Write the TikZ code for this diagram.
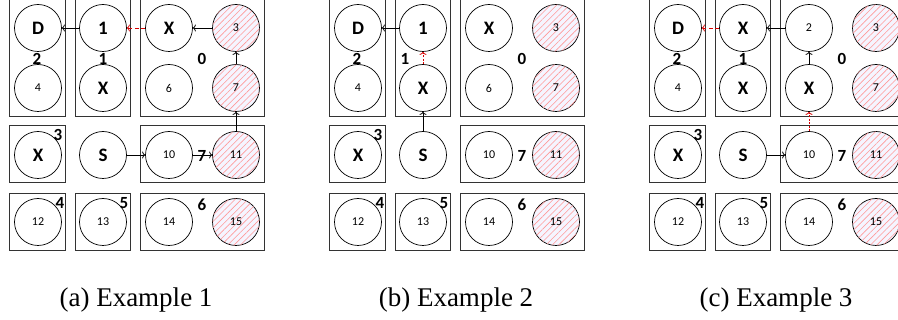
\documentclass[tikz,border=0pt]{standalone}
\usepackage{fontspec}
\setmainfont{Carlito}
\newfontfamily\capfont{Liberation Serif}
\usetikzlibrary{arrows.meta}
\usetikzlibrary{patterns.meta}

\begin{document}
\begin{tikzpicture}[x=1pt, y=-1pt, >={To[length=3pt,width=7pt]},
    cell/.style={circle, draw, line width=0.7pt, minimum size=47pt, inner sep=0pt},
    agent/.style={cell, font=\fontsize{19}{20}\selectfont\bfseries},
    num/.style={cell, font=\fontsize{12}{13}\selectfont},
    goal/.style={num, fill=blue!4, postaction={pattern={Lines[angle=45,distance=4.5pt,line width=0.6pt]}, pattern color=red!40}},
    group/.style={draw=black!80, line width=1pt},
    glabel/.style={font=\fontsize{17}{18}\selectfont\bfseries, inner sep=0pt},
    caption/.style={font=\capfont\fontsize{27}{30}\selectfont, anchor=base, inner sep=0pt},
    arrow/.style={->, line width=0.8pt},
    hop/.style={arrow, red!85!black, dash pattern=on 4pt off 2.5pt},
    hopv/.style={arrow, red!85!black, dash pattern=on 2pt off 1.5pt},
    ]

    \useasboundingbox (0,0) rectangle (898,320);
    \clip (0,0) rectangle (898,320);

    % Frames and captions of the three panels
    \foreach \p/\dx/\n in {a/0/1, b/320/2, c/640/3} {
        \begin{scope}[xshift=\dx pt]
            \draw[group] (9,-2) rectangle (65,117);
            \draw[group] (75,-2) rectangle (130,117);
            \draw[group] (140,-2) rectangle (264,117);
            \draw[group] (9,126) rectangle (65,183);
            \draw[group] (140,126) rectangle (264,183);
            \draw[group] (9,194) rectangle (65,251);
            \draw[group] (75,194) rectangle (130,251);
            \draw[group] (140,194) rectangle (264,251);

            \node[caption] (\p cap) at (136,307) {(\p) Example \n};
        \end{scope}
    }

    % Panel (a)
    \foreach \txt/\kind [count=\i from 0] in {D/agent, 1/agent, X/agent, 3/goal,
            4/num, X/agent, 6/num, 7/goal, X/agent, S/agent, 10/num, 11/goal,
            12/num, 13/num, 14/num, 15/goal} {
        \pgfmathtruncatemacro\col{mod(\i,4)}
        \pgfmathtruncatemacro\row{div(\i,4)}
        \pgfmathsetmacro\cx{{38,103,169,236}[\col]}
        \pgfmathsetmacro\cy{{28,88,155,222}[\row]}
        \node[\kind] (a\i) at (\cx,\cy) {\txt};
    }

    % Panel (b)
    \foreach \txt/\kind [count=\i from 0] in {D/agent, 1/agent, X/agent, 3/goal,
            4/num, X/agent, 6/num, 7/goal, X/agent, S/agent, 10/num, 11/goal,
            12/num, 13/num, 14/num, 15/goal} {
        \pgfmathtruncatemacro\col{mod(\i,4)}
        \pgfmathtruncatemacro\row{div(\i,4)}
        \pgfmathsetmacro\cx{{38,103,169,236}[\col]+320}
        \pgfmathsetmacro\cy{{28,88,155,222}[\row]}
        \node[\kind] (b\i) at (\cx,\cy) {\txt};
    }

    % Panel (c)
    \foreach \txt/\kind [count=\i from 0] in {D/agent, X/agent, 2/num, 3/goal,
            4/num, X/agent, X/agent, 7/goal, X/agent, S/agent, 10/num, 11/goal,
            12/num, 13/num, 14/num, 15/goal} {
        \pgfmathtruncatemacro\col{mod(\i,4)}
        \pgfmathtruncatemacro\row{div(\i,4)}
        \pgfmathsetmacro\cx{{38,103,169,236}[\col]+640}
        \pgfmathsetmacro\cy{{28,88,155,222}[\row]}
        \node[\kind] (c\i) at (\cx,\cy) {\txt};
    }

    % Group numbers
    \foreach \p/\dx/\onex in {a/0/103, b/320/85, c/640/103} {
        \begin{scope}[xshift=\dx pt]
            \node[glabel] (\p g2) at (37,59) {2};
            \node[glabel] (\p g1) at (\onex,59) {1};
            \node[glabel] (\p g0) at (202,59) {0};
            \node[glabel] (\p g3) at (58,135) {3};
            \node[glabel] (\p g7) at (202,156) {7};
            \node[glabel] (\p g4) at (60,203) {4};
            \node[glabel] (\p g5) at (124,203) {5};
            \node[glabel] (\p g6) at (202,205) {6};
        \end{scope}
    }

    % Moves in (a)
    \draw[arrow] (a1) -- (a0);
    \draw[hop] (a2) -- (a1);
    \draw[arrow] (a3) -- (a2);
    \draw[arrow] (a7) -- (a3);
    \draw[arrow] (a11) -- (a7);
    \draw[arrow] (a9) -- (a10);
    \draw[arrow] (a10) -- (a11);

    % Moves in (b)
    \draw[arrow] (b1) -- (b0);
    \draw[hopv] (b5) -- (b1);
    \draw[arrow] (b9) -- (b5);

    % Moves in (c)
    \draw[hop] (c1) -- (c0);
    \draw[arrow] (c2) -- (c1);
    \draw[arrow] (c6) -- (c2);
    \draw[hopv] (c10) -- (c6);
    \draw[arrow] (c9) -- (c10);

\end{tikzpicture}
\end{document}
